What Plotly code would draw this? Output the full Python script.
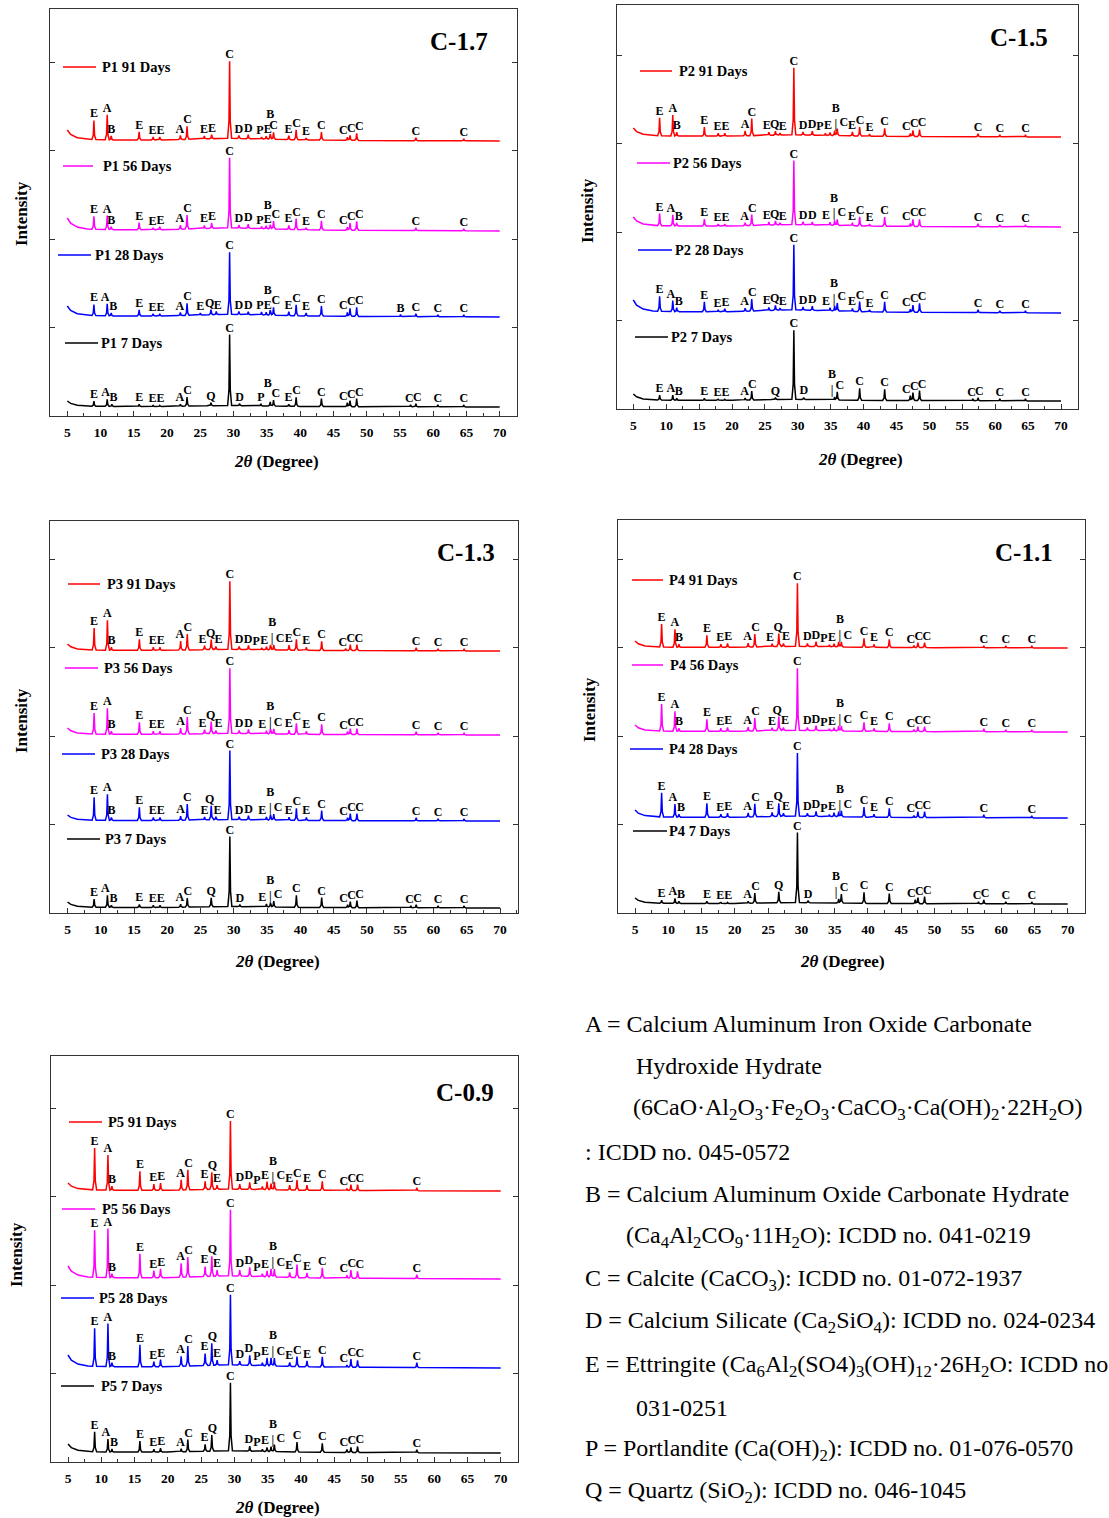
import numpy as np
import plotly.graph_objects as go

W, H = 1109, 1518
FONT = "Liberation Serif, Times New Roman, Times, serif"

# ---------------- data ----------------
X_TICKS = list(range(5, 75, 5))
COLORS = ["#ff0000", "#ff00ff", "#0000ff", "#000000"]
AGES = ["91 Days", "56 Days", "28 Days", "7 Days"]

# shared background shape (fraction of low-angle rise) at these 2-theta anchors
BG_X = [5, 5.5, 6.5, 8, 12, 20, 26, 29, 33, 40, 50, 70]
BG_F = [1.0, 0.6, 0.3, 0.15, 0.1, 0.1, 0.2, 0.25, 0.2, 0.1, 0.05, 0.0]

# peaks: (2theta, intensity above background [a.u.], phase label[, label raise])
P1_91 = [(9.0,19,"E"),(11.0,25,"A"),(11.6,4,"B"),(15.8,8,"E"),(17.9,3,"E"),(18.9,3,"E"),(22.0,4,"A"),(23.0,13,"C"),(25.6,3,"E"),(26.7,4,"E"),(29.4,77,"C"),(30.8,3,"D"),(32.2,4,"D"),(34.2,2,"P"),(34.9,3,"E"),(35.5,5,"B",13),(36.0,7,"C"),(38.3,4,"E"),(39.4,10,"C"),(40.9,2,"E"),(43.2,8,"C"),(47.1,3,"C"),(47.5,5,"C"),(48.5,7,"C"),(57.4,3,"C"),(64.6,2,"C")]
P1_56 = [(9.0,13,"E"),(11.0,14,"A"),(11.6,3,"B"),(15.8,7,"E"),(17.9,2,"E"),(18.9,3,"E"),(22.0,4,"A"),(23.0,14,"C"),(25.6,3,"E"),(26.7,5,"E"),(29.4,70,"C"),(30.8,3,"D"),(32.2,4,"D"),(34.2,2,"P"),(34.9,3,"E"),(35.5,4,"B",13),(36.0,8,"C"),(38.3,4,"E"),(39.4,11,"C"),(40.9,2,"E"),(43.2,9,"C"),(47.1,3,"C"),(47.5,7,"C"),(48.5,9,"C"),(57.4,3,"C"),(64.6,2,"C")]
P1_28 = [(9.0,11,"E"),(11.0,12,"A"),(11.6,3,"B"),(15.8,6,"E"),(17.9,2,"E"),(18.9,2,"E"),(22.0,3,"A"),(23.0,12,"C"),(25.0,2,"E"),(26.6,5,"Q"),(27.4,3,"E"),(29.4,62,"C"),(30.8,3,"D"),(32.2,3,"D"),(34.2,3,"P"),(34.9,3,"E"),(35.5,5,"B",13),(36.0,8,"C"),(38.3,4,"E"),(39.4,11,"C"),(40.9,3,"E"),(43.2,10,"C"),(47.1,4,"C"),(47.5,8,"C"),(48.5,9,"C"),(55.1,2,"B"),(57.4,3,"C"),(60.7,2,"C"),(64.6,2,"C")]
P1_7 = [(9.0,5,"E"),(11.0,7,"A"),(11.7,2,"B"),(15.8,2,"E"),(17.9,1,"E"),(18.9,1,"E"),(22.0,2,"A"),(23.0,9,"C"),(26.6,3,"Q"),(29.4,71,"C"),(30.9,2,"D"),(34.1,2,"P"),(35.5,4,"B",12),(36.0,6,"C"),(38.3,2,"E"),(39.4,9,"C"),(43.2,8,"C"),(47.1,4,"C"),(47.5,6,"C"),(48.5,8,"C"),(56.6,2,"C"),(57.4,3,"C"),(60.7,2,"C"),(64.6,2,"C")]
P1_OFFSET = [275, 185, 99, 9]
P1_RISE = [11, 13, 11, 6]

P2_91 = [(9.0,18,"E"),(11.0,21,"A"),(11.6,4,"B"),(15.8,9,"E"),(17.9,3,"E"),(18.9,3,"E"),(22.0,5,"A"),(23.0,17,"C"),(25.6,3,"E"),(26.6,4,"Q"),(27.3,2,"E"),(29.4,67,"C"),(30.8,3,"D"),(32.2,4,"D"),(34.2,2,"P"),(34.9,3,"E"),(35.6,5,"B|"),(36.0,7,"C"),(38.3,4,"E"),(39.4,9,"C"),(40.9,2,"E"),(43.2,8,"C"),(47.1,3,"C"),(47.5,6,"C"),(48.5,7,"C"),(57.4,3,"C"),(60.7,2,"C"),(64.6,2,"C")]
P2_56 = [(9.0,12,"E"),(11.0,11,"A"),(11.6,3,"B"),(15.8,7,"E"),(17.9,2,"E"),(18.9,2,"E"),(22.0,3,"A"),(23.0,11,"C"),(25.6,3,"E"),(26.6,4,"Q"),(27.3,2,"E"),(29.4,64,"C"),(30.8,3,"D"),(32.2,3,"D"),(34.9,3,"E"),(35.6,5,"B|"),(36.0,6,"C"),(38.3,3,"E"),(39.4,9,"C"),(40.9,2,"E"),(43.2,9,"C"),(47.1,3,"C"),(47.5,7,"C"),(48.5,7,"C"),(57.4,3,"C"),(60.7,2,"C"),(64.6,2,"C")]
P2_28 = [(9.0,15,"E"),(11.0,11,"A"),(11.6,4,"B"),(15.8,10,"E"),(17.9,2,"E"),(18.9,3,"E"),(22.0,3,"A"),(23.0,12,"C"),(25.6,3,"E"),(26.6,5,"Q"),(27.3,2,"E"),(29.4,65,"C"),(30.8,3,"D"),(32.2,4,"D"),(34.9,3,"E"),(35.6,5,"B|"),(36.0,8,"C"),(38.3,3,"E"),(39.4,10,"C"),(40.9,2,"E"),(43.2,10,"C"),(47.1,3,"C"),(47.5,7,"C"),(48.5,9,"C"),(57.4,3,"C"),(60.7,2,"C"),(64.6,2,"C")]
P2_7 = [(9.0,5,"E"),(11.0,5,"A"),(11.6,2,"B"),(15.8,2,"E"),(17.9,1,"E"),(18.9,1,"E"),(22.0,2,"A"),(23.0,9,"C"),(26.6,2,"Q"),(29.4,69,"C"),(30.9,2,"D"),(35.6,3,"B|"),(36.0,8,"C"),(39.4,12,"C"),(43.2,11,"C"),(47.1,5,"C"),(47.5,8,"C"),(48.5,10,"C"),(56.6,2,"C"),(57.4,3,"C"),(60.7,2,"C"),(64.6,2,"C")]
P2_OFFSET = [272, 182, 96, 8]
P2_RISE = [9, 10, 13, 7]

P3_91 = [(9.0,22,"E"),(11.0,30,"A"),(11.6,3,"B"),(15.8,11,"E"),(17.9,3,"E"),(18.9,3,"E"),(22.0,9,"A"),(23.0,16,"C"),(25.6,4,"E"),(26.6,10,"Q"),(27.3,3,"E"),(29.4,68,"C"),(30.8,3,"D"),(32.2,4,"D"),(34.2,2,"P"),(34.9,3,"E"),(35.5,5,"B|"),(36.0,5,"C"),(38.3,5,"E"),(39.4,11,"C"),(40.9,3,"E"),(43.2,9,"C"),(46.8,2,"C"),(47.5,6,"C"),(48.5,6,"C"),(57.4,3,"C"),(60.7,2,"C"),(64.6,2,"C")]
P3_56 = [(9.0,21,"E"),(11.0,26,"A"),(11.6,3,"B"),(15.8,12,"E"),(17.9,3,"E"),(18.9,3,"E"),(22.0,6,"A"),(23.0,17,"C"),(25.6,4,"E"),(26.6,12,"Q"),(27.3,3,"E"),(29.4,65,"C"),(30.8,3,"D"),(32.2,4,"D"),(34.9,3,"E"),(35.5,5,"B|"),(36.0,5,"C"),(38.3,4,"E"),(39.4,11,"C"),(40.9,3,"E"),(43.2,10,"C"),(47.1,3,"C"),(47.5,6,"C"),(48.5,6,"C"),(57.4,3,"C"),(60.7,2,"C"),(64.6,2,"C")]
P3_28 = [(9.0,23,"E"),(11.0,26,"A"),(11.6,3,"B"),(15.8,13,"E"),(17.9,3,"E"),(18.9,3,"E"),(22.0,4,"A"),(23.0,16,"C"),(25.6,3,"E"),(26.6,14,"Q"),(27.3,3,"E"),(29.4,69,"C"),(30.8,3,"D"),(32.2,4,"D"),(34.9,3,"E"),(35.5,5,"B|"),(36.0,6,"C"),(38.3,3,"E"),(39.4,12,"C"),(40.9,3,"E"),(43.2,10,"C"),(47.1,3,"C"),(47.5,7,"C"),(48.5,7,"C"),(57.4,3,"C"),(60.7,2,"C"),(64.6,2,"C")]
P3_7 = [(9.0,8,"E"),(11.0,12,"A"),(11.6,2,"B"),(15.8,3,"E"),(17.9,2,"E"),(18.9,2,"E"),(22.0,3,"A"),(23.0,9,"C"),(26.6,9,"Q"),(29.4,70,"C"),(30.9,2,"D"),(34.9,3,"E"),(35.5,4,"B|"),(36.0,6,"C"),(39.4,12,"C"),(43.2,10,"C"),(47.1,3,"C"),(47.5,6,"C"),(48.5,7,"C"),(56.6,2,"C"),(57.4,3,"C"),(60.7,2,"C"),(64.6,2,"C")]
P3_OFFSET = [262, 178, 92, 5]
P3_RISE = [7, 7, 6, 6]

P4_91 = [(9.0,23,"E"),(11.0,18,"A"),(11.6,3,"B"),(15.8,12,"E"),(17.9,3,"E"),(18.9,4,"E"),(22.0,4,"A"),(23.0,13,"C"),(25.6,3,"E"),(26.6,13,"Q"),(27.3,3,"E"),(29.4,63,"C"),(30.9,3,"D"),(32.2,5,"D"),(34.2,2,"P"),(34.9,3,"E"),(35.6,5,"B|"),(36.0,5,"C"),(39.4,9,"C"),(40.9,3,"E"),(43.2,8,"C"),(46.9,2,"C"),(47.5,5,"C"),(48.5,5,"C"),(57.4,2,"C"),(60.7,2,"C"),(64.6,2,"C")]
P4_56 = [(9.0,27,"E"),(11.0,20,"A"),(11.6,3,"B"),(15.8,12,"E"),(17.9,3,"E"),(18.9,4,"E"),(22.0,4,"A"),(23.0,13,"C"),(25.6,3,"E"),(26.6,14,"Q"),(27.3,3,"E"),(29.4,62,"C"),(30.9,3,"D"),(32.2,5,"D"),(34.2,2,"P"),(34.9,3,"E"),(35.6,5,"B|"),(36.0,5,"C"),(39.4,9,"C"),(40.9,3,"E"),(43.2,8,"C"),(46.9,2,"C"),(47.5,5,"C"),(48.5,5,"C"),(57.4,3,"C"),(60.7,2,"C"),(64.6,2,"C")]
P4_28 = [(9.0,24,"E"),(11.0,13,"A"),(11.6,3,"B"),(15.8,14,"E"),(17.9,3,"E"),(18.9,4,"E"),(22.0,4,"A"),(23.0,13,"C"),(25.6,4,"E"),(26.6,13,"Q"),(27.3,3,"E"),(29.4,63,"C"),(30.9,3,"D"),(32.2,5,"D"),(34.2,2,"P"),(34.9,4,"E"),(35.6,5,"B|"),(36.0,6,"C"),(39.4,10,"C"),(40.9,3,"E"),(43.2,9,"C"),(46.9,2,"C"),(47.5,6,"C"),(48.5,6,"C"),(57.4,3,"C"),(64.6,2,"C")]
P4_7 = [(9.0,3,"E"),(11.0,5,"A"),(11.6,2,"B"),(15.8,2,"E"),(17.9,1,"E"),(18.9,1,"E"),(22.0,2,"A"),(23.0,10,"C"),(26.6,11,"Q"),(29.4,70,"C"),(31.0,2,"D"),(35.6,4,"B|"),(36.0,9,"C"),(39.4,11,"C"),(43.2,10,"C"),(47.1,4,"C"),(47.5,6,"C"),(48.5,7,"C"),(56.6,2,"C"),(57.4,4,"C"),(60.7,2,"C"),(64.6,2,"C")]
P4_OFFSET = [265, 181, 95, 9]
P4_RISE = [7, 7, 8, 6]

P5_91 = [(9.0,42,"E"),(11.0,35,"A"),(11.6,4,"B"),(15.8,19,"E"),(17.9,6,"E"),(18.9,7,"E"),(22.0,10,"A"),(23.0,20,"C"),(25.6,8,"E"),(26.6,17,"Q"),(27.4,4,"E"),(29.4,68,"C"),(30.8,5,"D"),(32.3,7,"D"),(34.2,3,"P"),(34.9,8,"E"),(35.5,6,"B|"),(36.0,8,"C"),(38.3,5,"E"),(39.4,10,"C"),(40.9,5,"E"),(43.2,9,"C"),(46.9,2,"C"),(47.5,6,"C"),(48.5,6,"C"),(57.4,3,"C")]
P5_56 = [(9.0,47,"E"),(11.0,49,"A"),(11.6,4,"B"),(15.8,24,"E"),(17.9,7,"E"),(18.9,9,"E"),(22.0,14,"A"),(23.0,20,"C"),(25.6,10,"E"),(26.6,20,"Q"),(27.4,6,"E"),(29.4,66,"C"),(30.8,6,"D"),(32.3,9,"D"),(34.2,3,"P"),(34.9,6,"E"),(35.5,8,"B|"),(36.0,8,"C"),(38.3,5,"E"),(39.4,13,"C"),(40.9,5,"E"),(43.2,10,"C"),(46.9,3,"C"),(47.5,8,"C"),(48.5,7,"C"),(57.4,4,"C")]
P5_28 = [(9.0,38,"E"),(11.0,43,"A"),(11.6,4,"B"),(15.8,22,"E"),(17.9,5,"E"),(18.9,7,"E"),(22.0,10,"A"),(23.0,20,"C"),(25.6,12,"E"),(26.6,22,"Q"),(27.4,5,"E"),(29.4,70,"C"),(30.8,4,"D"),(32.3,10,"D"),(34.2,3,"P"),(34.9,8,"E"),(35.5,8,"B|"),(36.0,8,"C"),(38.3,4,"E"),(39.4,10,"C"),(40.9,6,"E"),(43.2,10,"C"),(46.9,2,"C"),(47.5,8,"C"),(48.5,7,"C"),(57.4,5,"C")]
P5_7 = [(9.0,20,"E"),(11.0,13,"A"),(11.6,3,"B"),(15.8,11,"E"),(17.9,3,"E"),(18.9,4,"E"),(22.0,3,"A"),(23.0,12,"C"),(25.6,7,"E"),(26.6,16,"Q"),(29.4,68,"C"),(32.3,5,"D"),(34.2,2,"P"),(34.9,4,"E"),(35.5,5,"B|"),(36.0,7,"C"),(39.4,10,"C"),(43.2,9,"C"),(46.9,3,"C"),(47.5,5,"C"),(48.5,6,"C"),(57.4,3,"C")]
P5_OFFSET = [271, 183, 94, 9]
P5_RISE = [8, 13, 13, 9]

PHASE_NOTES = [
    (584, 1024, "A = Calcium Aluminum Iron Oxide Carbonate"),
    (635, 1066, "Hydroxide Hydrate"),
    (632, 1109, "(6CaO·Al<sub>2</sub>O<sub>3</sub>·Fe<sub>2</sub>O<sub>3</sub>·CaCO<sub>3</sub>·Ca(OH)<sub>2</sub>·22H<sub>2</sub>O)"),
    (584, 1152, ": ICDD no. 045-0572"),
    (584, 1194, "B = Calcium Aluminum Oxide Carbonate Hydrate"),
    (625, 1237, "(Ca<sub>4</sub>Al<sub>2</sub>CO<sub>9</sub>·11H<sub>2</sub>O): ICDD no. 041-0219"),
    (584, 1280, "C = Calcite (CaCO<sub>3</sub>): ICDD no. 01-072-1937"),
    (584, 1322, "D = Calcium Silicate (Ca<sub>2</sub>SiO<sub>4</sub>): ICDD no. 024-0234"),
    (584, 1366, "E = Ettringite (Ca<sub>6</sub>Al<sub>2</sub>(SO4)<sub>3</sub>(OH)<sub>12</sub>·26H<sub>2</sub>O: ICDD no."),
    (635, 1408, "031-0251"),
    (584, 1450, "P = Portlandite (Ca(OH)<sub>2</sub>): ICDD no. 01-076-0570"),
    (584, 1492, "Q = Quartz (SiO<sub>2</sub>): ICDD no. 046-1045"),
]

# ---------------- layout (pixel geometry) ----------------
PANELS = [
    dict(title="C-1.7", sample="P1", curves=[P1_91, P1_56, P1_28, P1_7], off=P1_OFFSET, rise=P1_RISE,
         frame=(50, 9, 517, 416), x5=67.3, x70=499.7, title_xy=(459, 41), xt_xy=(276, 461), yl_xy=(21, 214),
         leg=[(63, 96, 67, 101), (63, 93, 166, 102), (58, 91, 255, 94), (65, 98, 343, 100)]),
    dict(title="C-1.5", sample="P2", curves=[P2_91, P2_56, P2_28, P2_7], off=P2_OFFSET, rise=P2_RISE,
         frame=(617, 5, 1078, 409), x5=633.3, x70=1061, title_xy=(1019, 37), xt_xy=(860, 460), yl_xy=(587, 211),
         leg=[(640, 672, 71, 678), (637, 670, 163, 672), (638, 672, 250, 674), (635, 668, 337, 670)]),
    dict(title="C-1.3", sample="P3", curves=[P3_91, P3_56, P3_28, P3_7], off=P3_OFFSET, rise=P3_RISE,
         frame=(50, 521, 518, 913), x5=67.5, x70=500, title_xy=(466, 552), xt_xy=(277, 961), yl_xy=(21, 721),
         leg=[(68, 100, 584, 106), (65, 98, 668, 103), (62, 95, 754, 100), (67, 100, 839, 104)]),
    dict(title="C-1.1", sample="P4", curves=[P4_91, P4_56, P4_28, P4_7], off=P4_OFFSET, rise=P4_RISE,
         frame=(618, 520, 1085, 913), x5=635, x70=1067.7, title_xy=(1024, 552), xt_xy=(843, 961), yl_xy=(589, 710),
         leg=[(632, 663, 580, 668), (632, 663, 665, 669), (630, 663, 749, 668), (633, 667, 831, 668)]),
    dict(title="C-0.9", sample="P5", curves=[P5_91, P5_56, P5_28, P5_7], off=P5_OFFSET, rise=P5_RISE,
         frame=(51, 1056, 518, 1462), x5=68, x70=500.7, title_xy=(465, 1092), xt_xy=(277, 1507), yl_xy=(16, 1255),
         leg=[(69, 102, 1122, 107), (62, 95, 1209, 101), (61, 94, 1298, 98), (61, 94, 1386, 100)]),
]

PROF_D = [0.0, 0.1, 0.3]
PROF_F = [1.0, 0.22, 0.0]
LABEL_GAP = 1.2     # minimal horizontal spacing (degrees) between neighbouring peak letters
LABEL_YTOL = 11     # letters closer than this vertically are treated as colliding


def build_curve(peaks, offset, rise):
    bgx = np.array(BG_X, float)
    bgy = offset + rise * np.array(BG_F, float)
    pos = np.array([p[0] for p in peaks], float)
    hts = np.array([p[1] for p in peaks], float)
    xs = set(BG_X)
    for x0 in pos:
        for d in (-0.3, -0.1, 0.0, 0.1, 0.3):
            xs.add(round(x0 + d, 4))
    xs = np.array(sorted(v for v in xs if 5 <= v <= 70))
    ys = np.interp(xs, bgx, bgy)
    for x0, h in zip(pos, hts):
        ys = ys + h * np.interp(np.abs(xs - x0), PROF_D, PROF_F, right=0.0)
    return xs, ys


def curve_value(xq, peaks, offset, rise):
    y = np.interp(xq, BG_X, offset + rise * np.array(BG_F, float))
    for p in peaks:
        y += p[1] * np.interp(abs(xq - p[0]), PROF_D, PROF_F, right=0.0)
    return float(y)


def spread(xs, ys):
    xs = list(xs)
    idx = list(range(len(xs)))
    for _ in range(40):
        moved = False
        idx.sort(key=lambda k: xs[k])
        for a, b in zip(idx, idx[1:]):
            d = xs[b] - xs[a]
            if d < LABEL_GAP and abs(ys[a] - ys[b]) < LABEL_YTOL:
                s = (LABEL_GAP - d) / 2 + 1e-3
                xs[a] -= s
                xs[b] += s
                moved = True
        if not moved:
            break
    return xs


fig = go.Figure()


def ann(px, py, text, size, xanchor="center", yanchor="middle", angle=0, color="black"):
    fig.add_annotation(x=px / W, y=1 - py / H, xref="paper", yref="paper", text=text, showarrow=False,
                       font=dict(family=FONT, size=size, color=color), xanchor=xanchor, yanchor=yanchor,
                       textangle=angle, borderpad=0)


for i, pn in enumerate(PANELS):
    sfx = "" if i == 0 else str(i + 1)
    l, t, r, b = pn["frame"]
    ppu = (pn["x70"] - pn["x5"]) / 65.0
    xr = [5 - (pn["x5"] - l) / ppu, 70 + (r - pn["x70"]) / ppu]
    hp = b - t

    lab_x, lab_y, lab_t = [], [], []
    for c, peaks in enumerate(pn["curves"]):
        xs, ys = build_curve(peaks, pn["off"][c], pn["rise"][c])
        fig.add_trace(go.Scatter(x=xs, y=ys, mode="lines", line=dict(color=COLORS[c], width=1.5),
                                 xaxis="x" + sfx, yaxis="y" + sfx, showlegend=False, hoverinfo="skip"))
        cx, cy, ct = [], [], []
        for p in peaks:
            dy = p[3] if len(p) > 3 else 0
            cx.append(p[0])
            cy.append(curve_value(p[0], peaks, pn["off"][c], pn["rise"][c]) + dy)
            ct.append("B<br>|" if p[2] == "B|" else p[2])
        cx = spread(cx, cy)
        lab_x += cx
        lab_y += cy
        lab_t += ct
    fig.add_trace(go.Scatter(x=lab_x, y=lab_y, text=lab_t, mode="text", textposition="top center",
                             textfont=dict(family=FONT, size=12, color="black", weight="bold"),
                             xaxis="x" + sfx, yaxis="y" + sfx, showlegend=False, hoverinfo="skip",
                             cliponaxis=False))

    fig.layout["xaxis" + sfx] = dict(
        domain=[l / W, r / W], range=xr, anchor="y" + sfx, showgrid=False, zeroline=False,
        showline=True, mirror=True, linecolor="#333", linewidth=1.2,
        tickmode="array", tickvals=X_TICKS, ticks="inside", ticklen=5, tickcolor="#333",
        minor=dict(ticks="inside", ticklen=3, dtick=2.5, tick0=5, tickcolor="#333"),
        tickfont=dict(family=FONT, size=13.5, color="black", weight="bold"), ticklabelstandoff=4)
    fig.layout["yaxis" + sfx] = dict(
        domain=[1 - b / H, 1 - t / H], range=[0, hp], anchor="x" + sfx, showgrid=False, zeroline=False,
        showline=True, mirror="ticks", linecolor="#333", linewidth=1.2, showticklabels=False,
        ticks="inside", ticklen=5, tickcolor="#333", tick0=0, dtick=88.5)

    ann(pn["title_xy"][0], pn["title_xy"][1], "<b>" + pn["title"] + "</b>", 25)
    ann(pn["xt_xy"][0], pn["xt_xy"][1], "<b><i>2θ</i> (Degree)</b>", 17)
    ann(pn["yl_xy"][0], pn["yl_xy"][1], "<b>Intensity</b>", 17, angle=-90)
    for c, (x0, x1, y0, tx) in enumerate(pn["leg"]):
        fig.add_shape(type="line", xref="paper", yref="paper", x0=x0 / W, x1=x1 / W,
                      y0=1 - y0 / H, y1=1 - y0 / H, line=dict(color=COLORS[c], width=1.5))
        ann(tx, y0, "<b>%s %s</b>" % (pn["sample"], AGES[c]), 14.5, xanchor="left")

for px, py, txt in PHASE_NOTES:
    ann(px, py, txt, 24, xanchor="left")

fig.update_layout(width=W, height=H, margin=dict(l=0, r=0, t=0, b=0),
                  paper_bgcolor="white", plot_bgcolor="white", showlegend=False)

fig.write_html("out.html")
